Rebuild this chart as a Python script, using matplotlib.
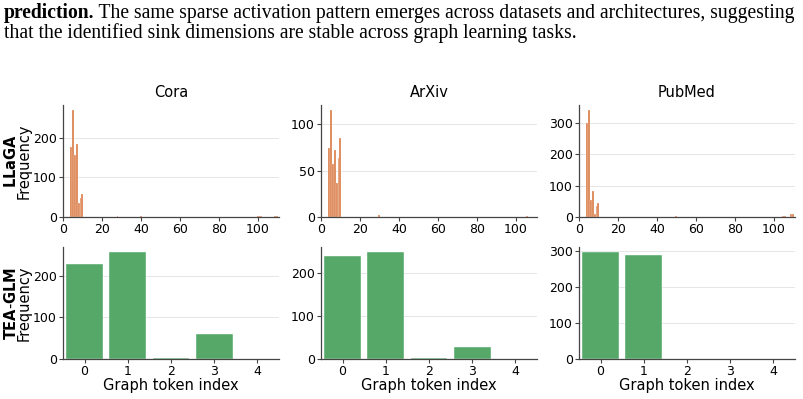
import matplotlib
matplotlib.use("Agg")
import matplotlib.pyplot as plt

# top row: LLaGA, sparse counts per hidden dimension
datasets = ["Cora", "ArXiv", "PubMed"]

cora_dims = [4, 5, 6, 7, 8, 9, 10, 28, 40, 100, 101, 102, 109, 110]
cora_counts = [177, 270, 157, 185, 36, 48, 58, 2, 2, 3, 3, 2, 3, 3]

arxiv_dims = [4, 5, 6, 7, 8, 9, 10, 30, 106]
arxiv_counts = [74, 115, 57, 72, 37, 64, 85, 2, 1]

pubmed_dims = [4, 5, 6, 7, 8, 9, 10, 50, 105, 106, 109, 110]
pubmed_counts = [301, 340, 54, 83, 10, 34, 44, 2, 2, 2, 9, 9]

# bottom row: TEA-GLM, counts per graph token
token_index = [0, 1, 2, 3, 4]
tea_cora = [230, 257, 3, 61, 0]
tea_arxiv = [241, 249, 3, 29, 0]
tea_pubmed = [297, 289, 0, 0, 0]

llaga = [(cora_dims, cora_counts), (arxiv_dims, arxiv_counts), (pubmed_dims, pubmed_counts)]
teaglm = [tea_cora, tea_arxiv, tea_pubmed]

orange = "#dd8452"
green = "#55a868"

caption_bold = "prediction."
caption_rest = " The same sparse activation pattern emerges across datasets and architectures, suggesting"
caption_line2 = "that the identified sink dimensions are stable across graph learning tasks."

W, H = 804, 399
fig = plt.figure(figsize=(W / 100, H / 100), dpi=100)

lefts = [63, 321, 579]
axw = 216
axh = 112
row_bottoms = [217, 359]


def style(ax):
    for s in ["top", "right"]:
        ax.spines[s].set_visible(False)
    for s in ["left", "bottom"]:
        ax.spines[s].set_color("#444444")
        ax.spines[s].set_linewidth(0.9)
    ax.tick_params(labelsize=9, length=3, width=0.8, color="#444444", pad=1.5)
    ax.grid(axis="y", color="#e6e6e6", linewidth=0.7)
    ax.set_axisbelow(True)


for i, name in enumerate(datasets):
    # LLaGA row
    ax = fig.add_axes([lefts[i] / W, 1 - row_bottoms[0] / H, axw / W, axh / H])
    dims, counts = llaga[i]
    ax.bar(dims, counts, width=1.0, color=orange, edgecolor="white", linewidth=0.15)
    ax.set_xlim(0, 111)
    ax.set_ylim(0, max(counts) * 1.05)
    ax.set_xticks([0, 20, 40, 60, 80, 100])
    ax.set_title(name, fontsize=10.5, pad=6)
    style(ax)
    if i == 0:
        ax.set_ylabel("$\\bf{LLaGA}$\nFrequency", fontsize=10.5, labelpad=1, linespacing=0.8)

    # TEA-GLM row
    ax2 = fig.add_axes([lefts[i] / W, 1 - row_bottoms[1] / H, axw / W, axh / H])
    vals = teaglm[i]
    ax2.bar(token_index, vals, width=0.85, color=green, edgecolor="white", linewidth=0.3)
    ax2.set_xlim(-0.5, 4.5)
    ax2.set_ylim(0, max(vals) * 1.05)
    ax2.set_xticks(token_index)
    ax2.set_xlabel("Graph token index", fontsize=10.5, labelpad=0)
    ax2.tick_params(axis="x", pad=0.5)
    style(ax2)
    if i == 0:
        ax2.set_ylabel("$\\bf{TEA\\text{-}GLM}$\nFrequency", fontsize=10.5, labelpad=1, linespacing=0.8)

# caption text above the figure
serif = "Liberation Serif"
cap_size = 14.1
t1 = fig.text(4 / W, 1 - 18 / H, caption_bold, fontsize=cap_size, family=serif,
              fontweight="bold", va="baseline", ha="left")
fig.canvas.draw()
bb = t1.get_window_extent()
fig.text(bb.x1 / W, 1 - 18 / H, caption_rest, fontsize=cap_size, family=serif,
         va="baseline", ha="left")
fig.text(4 / W, 1 - 38 / H, caption_line2, fontsize=cap_size, family=serif,
         va="baseline", ha="left")

fig.savefig("out.png", dpi=100)
